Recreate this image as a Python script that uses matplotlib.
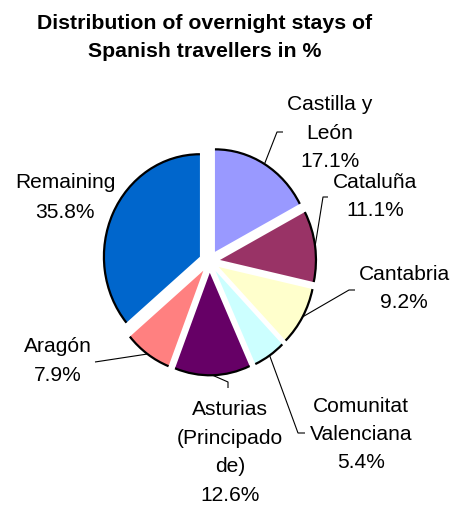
import matplotlib
matplotlib.use("Agg")
import matplotlib.pyplot as plt
from matplotlib.patches import Arc
import numpy as np

plt.rcParams['font.family'] = ['Liberation Sans', 'DejaVu Sans']

# ---- data ----
categories = ["Castilla y León", "Cataluña", "Cantabria", "Comunitat Valenciana",
              "Asturias (Principado de)", "Aragón", "Remaining"]
shares = [17.1, 11.1, 9.2, 5.4, 12.6, 7.9, 35.8]
label_lines = [["Castilla y", "León"], ["Cataluña"], ["Cantabria"],
               ["Comunitat", "Valenciana"], ["Asturias", "(Principado", "de)"],
               ["Aragón"], ["Remaining"]]
colors = ["#9999FF", "#993366", "#FFFFCC", "#CCFFFF", "#660066", "#FF8080", "#0066CC"]
title_lines = ["Distribution of overnight stays of", "Spanish travellers in %"]

# ---- layout (pixels, top-down) ----
W, H = 459, 507
CX, CY = 209.5, 261.5
RX, RY = 96, 102.5
label_x = [330, 375, 404, 361, 230, 58, 65]
label_base = [[110.5, 139, 167], [187.5, 216.5], [279.5, 308.5],
              [411.5, 439.5, 468.5], [415, 444, 472.5, 501], [352, 381], [187.5, 218]]
leader_anchor = [[(283, 132), (277, 132)], [(328, 197), (323, 197)],
                 [(355, 290), (349, 290)], [(305, 433), (298, 433)],
                 [(228, 388), (228, 382)], [(95, 362)], []]
FS = 15.1

fig = plt.figure(figsize=(W / 100, H / 100), dpi=100)
ax = fig.add_axes([0, 0, 1, 1])
wedges, _ = ax.pie(shares, colors=colors, startangle=90, counterclock=False,
                   explode=[0.11] * len(shares), radius=1.0, center=(0, 0),
                   wedgeprops=dict(linewidth=0, edgecolor='none'))
ax.set_aspect('auto')
ax.set_xlim(-CX / RX, (W - CX) / RX)
ax.set_ylim(-(H - CY) / RY, CY / RY)
ax.axis('off')
ax.patch.set_visible(False)
for w in wedges:
    ax.add_patch(Arc(w.center, 2 * w.r, 2 * w.r, theta1=w.theta1, theta2=w.theta2,
                     color='black', lw=1.6))

ov = fig.add_axes([0, 0, 1, 1])
ov.set_xlim(0, W)
ov.set_ylim(H, 0)
ov.axis('off')
ov.patch.set_visible(False)

for i, w in enumerate(wedges):
    mid = np.deg2rad((w.theta1 + w.theta2) / 2)
    pt = (w.center[0] + w.r * np.cos(mid), w.center[1] + w.r * np.sin(mid))
    disp = ax.transData.transform(pt)
    px, py = ov.transData.inverted().transform(disp)
    if leader_anchor[i]:
        pts = list(leader_anchor[i]) + [(px, py)]
        ov.plot([p[0] for p in pts], [p[1] for p in pts], color='black', lw=0.8,
                solid_capstyle='butt')
    lines = label_lines[i] + [f"{shares[i]:.1f}%"]
    for ln, yb in zip(lines, label_base[i]):
        ov.text(label_x[i], yb, ln, ha='center', va='baseline', fontsize=FS, color='black')

for ln, yb in zip(title_lines, [29, 57]):
    ov.text(205, yb, ln, ha='center', va='baseline', fontsize=15.3, fontweight='bold',
            color='black')

fig.savefig("out.png", dpi=100)
